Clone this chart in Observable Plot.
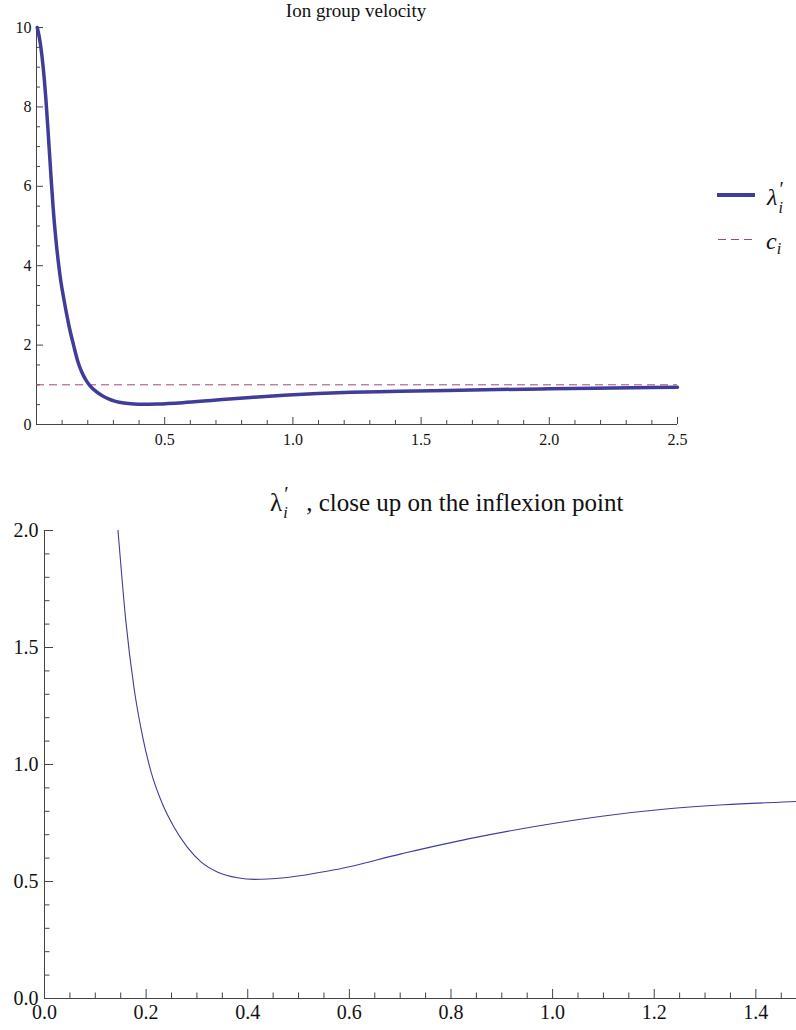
<!DOCTYPE html>
<html><head><meta charset="utf-8">
<script src="https://cdn.jsdelivr.net/npm/d3@7"></script>
<script src="https://cdn.jsdelivr.net/npm/@observablehq/plot@0.6"></script>
<style>
body{margin:0;background:#fff;font-family:"Liberation Serif",serif;color:#111;}
#wrap{position:relative;width:796px;height:1030px;overflow:hidden;}
.abs{position:absolute;white-space:nowrap;font-family:"Liberation Serif",serif;}
.pr{position:relative;display:inline-block;width:9px;height:1em;vertical-align:top;}
.pr .p{position:absolute;left:2px;top:-5px;font-style:normal;line-height:1;}
.pr .s{position:absolute;left:1px;font-style:italic;line-height:1;}
</style></head><body><div id="wrap"></div>
<script>
// wavenumber k and ion group velocity lambda'_i
const k = [0.003, 0.015, 0.026, 0.036, 0.045, 0.055, 0.065, 0.075, 0.085, 0.095, 0.107, 0.120, 0.132, 0.1446, 0.160, 0.176, 0.193, 0.209, 0.232, 0.255, 0.281, 0.308, 0.341, 0.380, 0.413, 0.472, 0.571, 0.702, 0.834, 0.965, 1.097, 1.228, 1.337, 1.48, 1.7, 2.0, 2.25, 2.5];
const lambda = [10.0, 9.6, 9.0, 8.25, 7.4, 6.4, 5.45, 4.7, 4.1, 3.6, 3.15, 2.7, 2.33, 2.0, 1.615, 1.33, 1.12, 0.974, 0.832, 0.732, 0.647, 0.584, 0.540, 0.516, 0.509, 0.516, 0.550, 0.618, 0.682, 0.735, 0.779, 0.811, 0.828, 0.842, 0.87, 0.90, 0.922, 0.94];
const cI = 1;

const topXTicks = [0.5, 1.0, 1.5, 2.0, 2.5];
const topYTicks = [0, 2, 4, 6, 8, 10];
const botXTicks = [0.0, 0.2, 0.4, 0.6, 0.8, 1.0, 1.2, 1.4];
const botYTicks = [0.0, 0.5, 1.0, 1.5, 2.0];

const topTitle = "Ion group velocity";
const botTitle = ", close up on the inflexion point";

const data = k.map((x, i) => ({k: x, v: lambda[i]}));
const lineColor = "#3f3d99", dashColor = "#a3467c", axisColor = "#444";
const FONT = "Liberation Serif";

function minor(step, lo, hi, majors) {
  return d3.range(Math.round(lo / step), Math.round(hi / step) + 1).map(i => +(i * step).toFixed(4))
    .filter(v => !majors.some(m => Math.abs(m - v) < 1e-6));
}

function axes(xMaj, xMin, yMaj, yMin, big, small, xPad, yPad, fmtX, fmtY, fs) {
  const t = {fontFamily: FONT, fontSize: fs, label: null};
  return [
    Plot.ruleY([0], {stroke: axisColor}),
    Plot.ruleX([0], {stroke: axisColor}),
    Plot.axisX(xMin, {...t, tickSize: -small, stroke: axisColor, tickFormat: () => ""}),
    Plot.axisX(xMaj, {...t, tickSize: -big, tickPadding: big + xPad, stroke: axisColor, fill: "#111", tickFormat: fmtX}),
    Plot.axisY(yMin, {...t, tickSize: -small, stroke: axisColor, tickFormat: () => ""}),
    Plot.axisY(yMaj, {...t, tickSize: -big, tickPadding: big + yPad, stroke: axisColor, fill: "#111", tickFormat: fmtY})
  ];
}

const topPlot = Plot.plot({
  width: 796, height: 450,
  marginLeft: 36, marginRight: 119, marginTop: 27, marginBottom: 26,
  x: {domain: [0, 2.5]}, y: {domain: [0, 10]},
  style: {fontFamily: FONT, fontSize: "16px", background: "transparent", overflow: "visible"},
  marks: [
    ...axes(topXTicks, minor(0.1, 0, 2.5, topXTicks), topYTicks, minor(0.5, 0, 10, topYTicks), 7, 4, 9, 5,
      d => d.toFixed(1), d => String(d), 16),
    Plot.ruleY([cI], {stroke: dashColor, strokeWidth: 1, strokeDasharray: "8,5"}),
    Plot.line(data, {x: "k", y: "v", stroke: lineColor, strokeWidth: 3.5, curve: "monotone-x"})
  ]
});

const botPlot = Plot.plot({
  width: 796, height: 530,
  marginLeft: 44, marginRight: 0, marginTop: 30, marginBottom: 32,
  x: {domain: [0, 1.48]}, y: {domain: [0, 2]},
  style: {fontFamily: FONT, fontSize: "20px", background: "transparent", overflow: "visible"},
  marks: [
    ...axes(botXTicks, minor(0.05, 0, 1.48, botXTicks), botYTicks, minor(0.1, 0, 2, botYTicks), 9, 5.5, 6, 6,
      d => d.toFixed(1), d => d.toFixed(1), 20),
    Plot.line(data, {x: "k", y: "v", stroke: lineColor, strokeWidth: 1.1, curve: "monotone-x", clip: true})
  ]
});

const wrap = document.getElementById("wrap");
topPlot.style.position = "absolute"; topPlot.style.left = "0px"; topPlot.style.top = "0px";
botPlot.style.position = "absolute"; botPlot.style.left = "0px"; botPlot.style.top = "500px";
wrap.appendChild(topPlot);
wrap.appendChild(botPlot);

function add(html, style) {
  const d = document.createElement("div");
  d.className = "abs";
  d.setAttribute("style", style);
  d.innerHTML = html;
  wrap.appendChild(d);
  return d;
}
add(topTitle, "left:0;width:712px;top:0px;text-align:center;font-size:19px;");
add(`<span>λ</span><span class="pr"><span class="p" style="font-size:20px">′</span><span class="s" style="font-size:16px;top:16px">i</span></span><span style="margin-left:15px">${botTitle}</span>`,
  "left:270px;top:489px;font-size:25px;");
// legend
add("", `left:717px;top:193px;width:38px;height:0;border-top:4px solid ${lineColor};`);
add("", `left:718px;top:239px;width:38px;height:1px;background:repeating-linear-gradient(90deg,${dashColor} 0 8px,transparent 8px 13px);`);
add(`<span style="font-style:italic">λ</span><span class="pr"><span class="p" style="font-size:20px">′</span><span class="s" style="font-size:16px;top:16px">i</span></span>`,
  "left:767px;top:184px;font-size:24px;");
add(`<span style="font-style:italic">c</span><span style="font-style:italic;font-size:16px;vertical-align:-5px">i</span>`,
  "left:766px;top:228px;font-size:24px;");
</script></body></html>
